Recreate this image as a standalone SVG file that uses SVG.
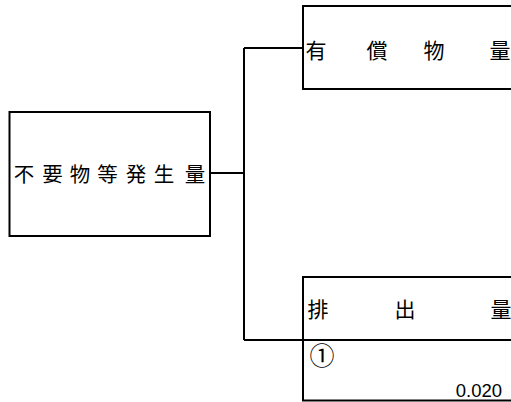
<svg xmlns="http://www.w3.org/2000/svg" width="511" height="402" viewBox="0 0 511 402">
<style>
.box{fill:#fff;stroke:#000;stroke-width:2}
.conn{fill:none;stroke:#000;stroke-width:2}
.jp{font-family:"Noto Sans CJK JP","Noto Sans CJK SC",sans-serif;font-size:20.5px;fill:#000;text-anchor:middle}
.num{font-family:"Liberation Sans",Arial,sans-serif;font-size:18.5px;fill:#000;text-anchor:end}
</style>
<rect width="511" height="402" fill="#fff"/>
<g id="connectors">
<path class="conn" d="M210,173 H244 M244,48 V340 M244,48 H303 M244,340 H303"/>
</g>
<g id="node-source">
<rect class="box" x="9.5" y="112" width="200.5" height="124"/>
<text class="jp" y="181.5"><tspan x="24">不</tspan><tspan x="52.5">要</tspan><tspan x="80">物</tspan><tspan x="107.5">等</tspan><tspan x="136">発</tspan><tspan x="164">生</tspan><tspan x="195">量</tspan></text>
</g>
<g id="node-valuable">
<rect class="box" x="303" y="6" width="220" height="83"/>
<text class="jp" y="57.5" style="font-size:21px"><tspan x="316">有</tspan><tspan x="377">償</tspan><tspan x="434">物</tspan><tspan x="500">量</tspan></text>
</g>
<g id="node-emission">
<rect class="box" x="303" y="277" width="220" height="123.5"/>
<line class="conn" x1="303" y1="340" x2="515" y2="340"/>
<text class="jp" y="316.5" style="font-size:21px"><tspan x="318">排</tspan><tspan x="405">出</tspan><tspan x="501">量</tspan></text>
<text class="jp" x="322" y="365" style="font-size:25px">①</text>
<text class="num" x="502" y="397">0.020</text>
</g>
</svg>
